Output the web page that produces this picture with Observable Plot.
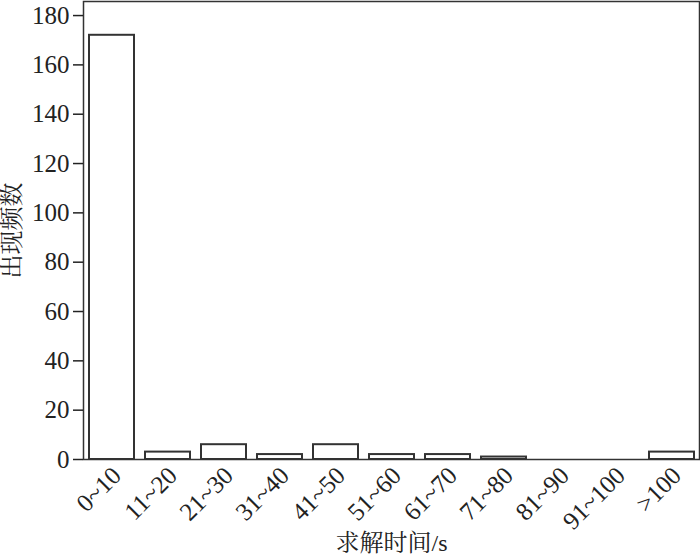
<!DOCTYPE html>
<html>
<head>
<meta charset="utf-8">
<script src="https://cdn.jsdelivr.net/npm/d3@7"></script>
<script src="https://cdn.jsdelivr.net/npm/@observablehq/plot@0.6"></script>
<style>
  html, body { margin: 0; padding: 0; background: #fff; }
  #chart svg { display: block; }
</style>
</head>
<body>
<div id="chart"></div>
<script>
const categories = ["0~10", "11~20", "21~30", "31~40", "41~50", "51~60", "61~70", "71~80", "81~90", "91~100", ">100"];
const counts = [172, 3, 6, 2, 6, 2, 2, 1, 0, 0, 3];
const yTicks = [0, 20, 40, 60, 80, 100, 120, 140, 160, 180];
const xTitle = "求解时间/s";
const yTitle = "出现频数";

const data = categories.map((c, i) => ({category: c, count: counts[i]}));
const serif = "'Liberation Serif', 'Times New Roman', serif";
const cjk = "'Liberation Serif', 'Noto Serif CJK SC', 'Noto Sans CJK SC', serif";

const chart = Plot.plot({
  width: 700,
  height: 554,
  marginLeft: 83,
  marginRight: 1,
  marginTop: 1,
  marginBottom: 95,
  style: {fontSize: "25px", fontFamily: serif, color: "#222", background: "#fff"},
  x: {domain: categories, paddingInner: 0.2, paddingOuter: 0.09, label: null},
  y: {domain: [0, 185.7], label: null},
  marks: [
    Plot.barY(data, {x: "category", y: "count", fill: "white", stroke: "#333", strokeWidth: 2}),
    Plot.frame({stroke: "#333", strokeWidth: 1.5}),
    Plot.axisY({ticks: yTicks, tickSize: 10, tickPadding: 4, tickFormat: d => String(d), label: null, strokeWidth: 1.5, fontSize: 25, fontFamily: serif}),
    Plot.axisX({tickSize: 0, tickRotate: -45, tickPadding: 12, dx: 5, label: null, fontSize: 25, fontFamily: serif}),
    Plot.text([yTitle], {frameAnchor: "left", textAnchor: "middle", dx: -71, rotate: -90, text: d => d, fontSize: 24, fill: "#222", fontFamily: cjk}),
    Plot.text([xTitle], {frameAnchor: "bottom", textAnchor: "middle", lineAnchor: "bottom", dy: 91, text: d => d, fontSize: 24, fill: "#222", fontFamily: cjk})
  ]
});
chart.querySelectorAll("text").forEach(t => {
  if (!/[\u4e00-\u9fff]/.test(t.textContent)) t.style.fontFamily = serif;
  else t.style.fontFamily = cjk;
});
document.getElementById("chart").appendChild(chart);
</script>
</body>
</html>
